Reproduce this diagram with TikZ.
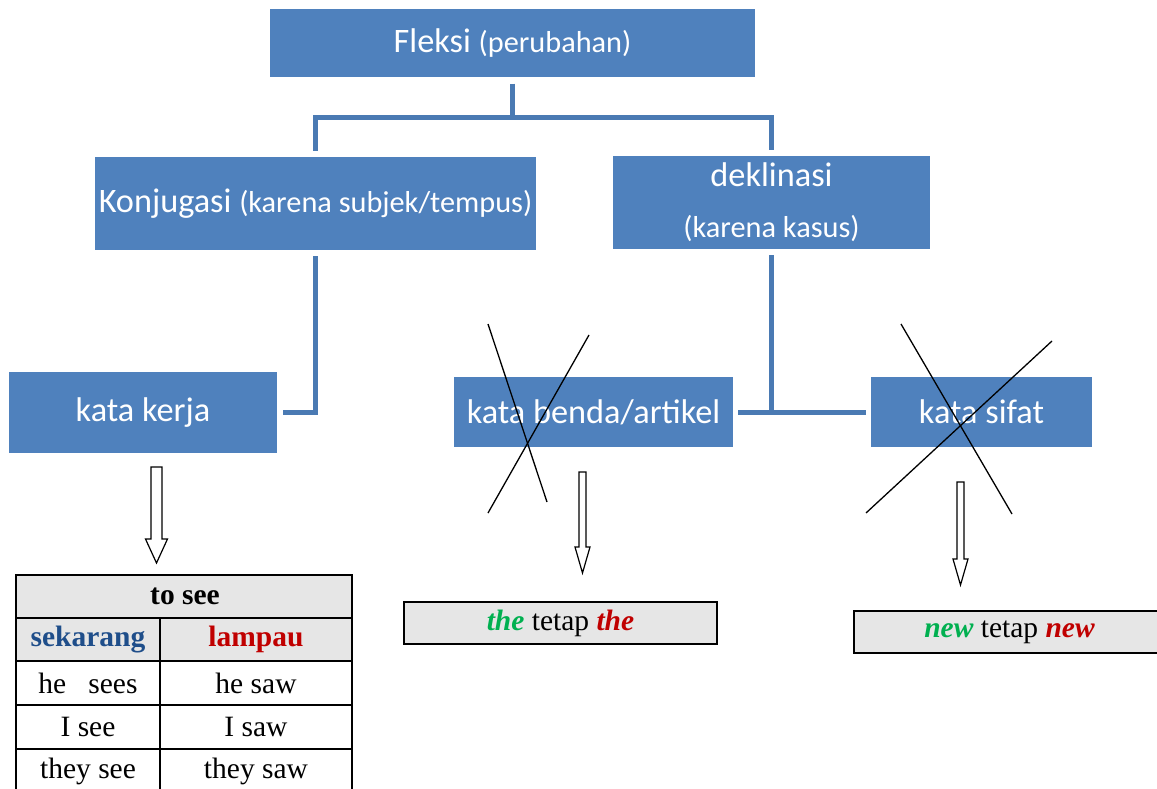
\documentclass[tikz,border=0pt]{standalone}
\usepackage{fontspec}
\setmainfont{Liberation Serif}
\newfontfamily\calfont{Carlito}
\usetikzlibrary{calc}
\definecolor{boxblue}{HTML}{4F81BD}
\definecolor{lineblue}{HTML}{4A7AB3}
\definecolor{cellgray}{HTML}{E6E6E6}
\definecolor{darkblue}{HTML}{1F4E8A}
\definecolor{darkred}{HTML}{C00000}
\definecolor{okgreen}{HTML}{00B050}
\newcommand\hollowdown[6]{%
  \draw[blockarr] ({#1-#5},#2) -- ({#1+#5},#2) -- ({#1+#5},#3) -- ({#1+#6},#3)
    -- (#1,#4) -- ({#1-#6},#3) -- ({#1-#5},#3) -- cycle;}
\newcommand\bigt{\fontsize{34.3}{51}\selectfont}
\newcommand\smallt{\fontsize{30.3}{51}\selectfont}
\tikzset{
  bluebox/.style={rectangle, fill=boxblue, text=white, inner sep=0pt,
    font=\calfont\bigt, align=center},
  conn/.style={draw=lineblue, line width=5pt, line join=miter},
  crossline/.style={draw=black, line width=1.3pt},
  blockarr/.style={draw=black, fill=white, line width=1.2pt, line join=miter},
  graybox/.style={rectangle, fill=cellgray, draw=black, line width=1.2pt,
    inner sep=0pt, font=\fontsize{29.5}{34}\selectfont},
  cell/.style={inner sep=0pt, font=\fontsize{29.5}{34}\selectfont},
  grid/.style={draw=black, line width=1.2pt},
}
\begin{document}
\begin{tikzpicture}[x=1pt,y=-1pt]
\useasboundingbox (0,0) rectangle (1157,789);
\clip (0,0) rectangle (1157,789);
\fill[white] (0,0) rectangle (1157,789);

% blue boxes
\node[bluebox, minimum width=485pt, minimum height=68pt] (fleksi) at (512.5,43.5)
  {Fleksi {\smallt (perubahan)}};
\node[bluebox, minimum width=441pt, minimum height=93pt] (konj) at (315.5,203.5)
  {Konjugasi {\smallt (karena subjek/tempus)}};
\node[bluebox, minimum width=317pt, minimum height=93pt] (dekl) at (771.5,202.5)
  {deklinasi\\{\smallt (karena kasus)}};
\node[bluebox, minimum width=268pt, minimum height=81pt] (kerja) at (143,412.5) {kata kerja};
\node[bluebox, minimum width=279pt, minimum height=70pt] (benda) at (593.5,412) {kata benda/artikel};
\node[bluebox, minimum width=221pt, minimum height=70pt] (sifat) at (981.5,412) {kata sifat};

% connectors
\coordinate (bar) at ($(fleksi.south)+(0,40)$);
\draw[conn] ([yshift=-6pt]fleksi.south) -- (fleksi.south |- bar);
\draw[conn] ([yshift=6pt]konj.north) -- (konj.north |- bar) -- (dekl.north |- bar) -- ([yshift=6pt]dekl.north);
\draw[conn] ([yshift=-6pt]konj.south) |- ([xshift=6pt]kerja.east);
\draw[conn] ([yshift=-6pt]dekl.south) -- (dekl.south |- benda.east);
\draw[conn] ([xshift=5pt]benda.east) -- ([xshift=-5pt]sifat.west);

% crosses
\draw[crossline] (488,324) -- (547,502);
\draw[crossline] (589,335) -- (488,513);
\draw[crossline] (901,324) -- (1012,514);
\draw[crossline] (1052,341) -- (866,513);

% hollow arrows
\hollowdown{156.5}{467}{539}{563}{5.5}{11}
\hollowdown{582.5}{472}{547}{573}{3.5}{7.5}
\hollowdown{960.5}{482}{559}{585}{3.5}{7.5}

% result boxes
\node[graybox, minimum width=313pt, minimum height=42pt] (theres) at (560.5,623)
  {{\color{okgreen}\bfseries\itshape the} tetap {\color{darkred}\bfseries\itshape the}};
\node[graybox, minimum width=311pt, minimum height=42pt] (newres) at (1009.5,632)
  {{\color{okgreen}\bfseries\itshape new} tetap {\color{darkred}\bfseries\itshape new}};

% table
\fill[cellgray] (16,575) rectangle (352,661);
\draw[grid] (16,800) -- (16,575) -- (352,575) -- (352,800);
\draw[grid] (16,618) -- (352,618);
\draw[grid] (16,661) -- (352,661);
\draw[grid] (16,705) -- (352,705);
\draw[grid] (16,749) -- (352,749);
\draw[grid] (160,618) -- (160,800);
\node[cell] (tosee) at (185,596.5) {\bfseries to see};
\node[cell] (now) at (88,639.5) {\color{darkblue}\bfseries sekarang};
\node[cell] (past) at (256,639.5) {\color{darkred}\bfseries lampau};
\node[cell] (r1a) at (88,683) {he~~~sees};
\node[cell] (r1b) at (256,683) {he saw};
\node[cell] (r2a) at (88,727) {I see};
\node[cell] (r2b) at (256,727) {I saw};
\node[cell] (r3a) at (88,771) {they see};
\node[cell] (r3b) at (256,771) {they saw};
\end{tikzpicture}
\end{document}
